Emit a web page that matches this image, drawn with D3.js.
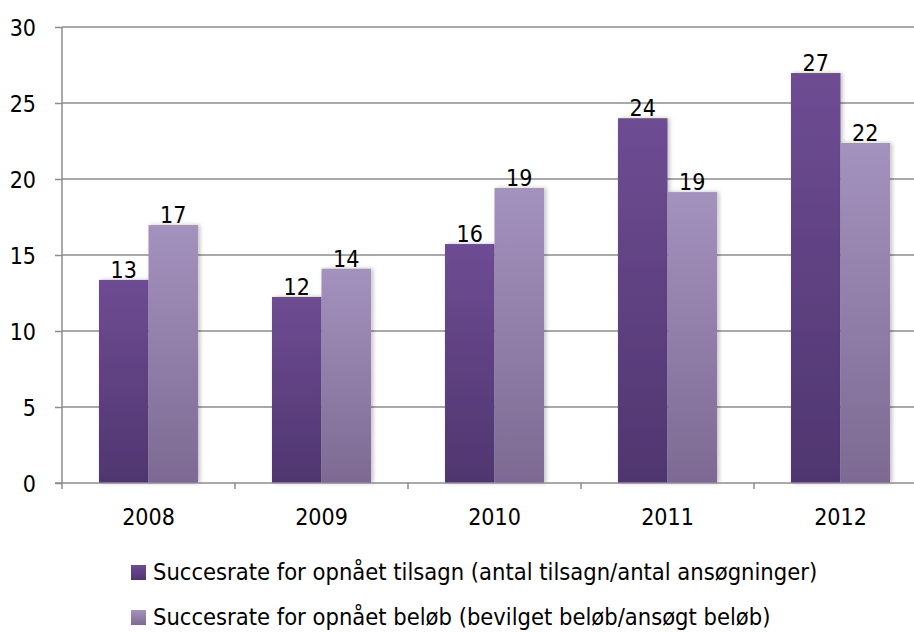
<!DOCTYPE html>
<html>
<head>
<meta charset="utf-8">
<script src="https://cdn.jsdelivr.net/npm/d3@7"></script>
<style>
  html, body { margin: 0; padding: 0; background: #fff; }
  svg text { font-family: "DejaVu Sans Condensed", "DejaVu Sans", sans-serif; fill: #000; }
</style>
</head>
<body>
<div id="chart"></div>
<script>
// chart values
var years     = ['2008', '2009', '2010', '2011', '2012'];
var tilsagn   = [13.36, 12.24, 15.72, 24.0, 26.97];   // Succesrate for opnået tilsagn
var belob     = [16.97, 14.1, 19.41, 19.14, 22.37];   // Succesrate for opnået beløb
var yTicks    = [0, 5, 10, 15, 20, 25, 30];
var seriesNames = [
    'Succesrate for opnået tilsagn (antal tilsagn/antal ansøgninger)',
    'Succesrate for opnået beløb (bevilget beløb/ansøgt beløb)'
];

var width = 914, height = 632;
var margin = {top: 27, left: 62, bottom: 149};
var bandStep = 173;                                   // the chart runs past the right edge
var fontSize = '23px';

var svg = d3.select('#chart').append('svg')
    .attr('width', width)
    .attr('height', height);

var defs = svg.append('defs');

// per-bar vertical gradients, Excel style
var grads = [
    {id: 'g0', top: '#6e4c93', bottom: '#4f366f'},
    {id: 'g1', top: '#a492be', bottom: '#7d6a93'}
];
grads.forEach(function(g){
    var lg = defs.append('linearGradient')
        .attr('id', g.id)
        .attr('x1', 0).attr('y1', 0).attr('x2', 0).attr('y2', 1);
    lg.append('stop').attr('offset', '0%').attr('stop-color', g.top);
    lg.append('stop').attr('offset', '100%').attr('stop-color', g.bottom);
});

defs.append('filter')
    .attr('id', 'shadow')
    .attr('x', '-20%').attr('y', '-5%').attr('width', '150%').attr('height', '110%')
    .append('feDropShadow')
    .attr('dx', 2).attr('dy', 0).attr('stdDeviation', 2)
    .attr('flood-color', '#000').attr('flood-opacity', 0.25);

var y = d3.scaleLinear()
    .domain([0, 30])
    .range([height - margin.bottom, margin.top]);   // 483 .. 27

var x = d3.scaleBand()
    .domain(years)
    .range([margin.left, margin.left + bandStep * years.length]);

var xSub = d3.scaleBand()
    .domain([0, 1])
    .range([0, x.bandwidth()])
    .paddingInner(0)
    .paddingOuter(0.747);

var y0 = y(0);

// gridlines
svg.append('g')
    .selectAll('line')
    .data(yTicks.filter(function(d){ return d > 0; }))
    .enter().append('line')
    .attr('x1', margin.left).attr('x2', width)
    .attr('y1', function(d){ return y(d); })
    .attr('y2', function(d){ return y(d); })
    .attr('stroke', '#8c8c8c')
    .attr('stroke-width', 1.5);

// y axis
var yAxis = d3.axisLeft(y)
    .tickValues(yTicks)
    .tickSize(7)
    .tickPadding(19)
    .tickFormat(d3.format('d'));

var gy = svg.append('g')
    .attr('transform', 'translate(' + margin.left + ',0)')
    .call(yAxis);
gy.select('.domain').remove();
gy.selectAll('.tick line').attr('stroke', '#8c8c8c').attr('stroke-width', 1.5);
gy.selectAll('.tick text').style('font-size', fontSize).attr('dy', '0.36em');
gy.append('line')
    .attr('x1', 0).attr('x2', 0)
    .attr('y1', y(30)).attr('y2', y0 + 6)
    .attr('stroke', '#8c8c8c').attr('stroke-width', 1.5);

// bars
var groups = svg.append('g')
    .selectAll('g')
    .data(years)
    .enter().append('g')
    .attr('transform', function(d){ return 'translate(' + x(d) + ',0)'; });

var allSeries = [tilsagn, belob];

groups.selectAll('rect')
    .data(function(d, i){ return allSeries.map(function(s, k){ return {k: k, v: s[i]}; }); })
    .enter().append('rect')
    .attr('x', function(d){ return xSub(d.k); })
    .attr('width', xSub.bandwidth())
    .attr('y', function(d){ return y(d.v); })
    .attr('height', function(d){ return y0 - y(d.v); })
    .attr('fill', function(d){ return 'url(#g' + d.k + ')'; })
    .attr('filter', 'url(#shadow)');

groups.selectAll('text.val')
    .data(function(d, i){ return allSeries.map(function(s, k){ return {k: k, v: s[i]}; }); })
    .enter().append('text')
    .attr('class', 'val')
    .attr('x', function(d){ return xSub(d.k) + xSub.bandwidth() / 2; })
    .attr('y', function(d){ return y(d.v) - 2; })
    .attr('text-anchor', 'middle')
    .style('font-size', fontSize)
    .text(function(d){ return d3.format('.0f')(d.v); });

// x axis
var xAxis = d3.axisBottom(x)
    .tickSize(0)
    .tickPadding(0);

var gx = svg.append('g')
    .attr('transform', 'translate(0,' + y0 + ')')
    .call(xAxis);
gx.select('.domain').remove();
gx.selectAll('.tick text')
    .style('font-size', fontSize)
    .attr('y', 42)
    .attr('dy', 0);

gx.append('line')
    .attr('x1', margin.left - 7).attr('x2', width)
    .attr('y1', 0).attr('y2', 0)
    .attr('stroke', '#8c8c8c').attr('stroke-width', 1.5);

gx.selectAll('line.sep')
    .data(years)
    .enter().append('line')
    .attr('class', 'sep')
    .attr('x1', function(d){ return x(d) + x.bandwidth(); })
    .attr('x2', function(d){ return x(d) + x.bandwidth(); })
    .attr('y1', 0).attr('y2', 6)
    .attr('stroke', '#8c8c8c').attr('stroke-width', 1.5);

// legend
var legend = svg.append('g')
    .selectAll('g')
    .data(seriesNames)
    .enter().append('g')
    .attr('transform', function(d, i){ return 'translate(131,' + (565 + i * 45) + ')'; });

legend.append('rect')
    .attr('width', 15).attr('height', 15)
    .attr('fill', function(d, i){ return 'url(#g' + i + ')'; });

legend.append('text')
    .attr('x', 22)
    .attr('y', 15)
    .style('font-size', '23.5px')
    .text(function(d){ return d; });
</script>
</body>
</html>
